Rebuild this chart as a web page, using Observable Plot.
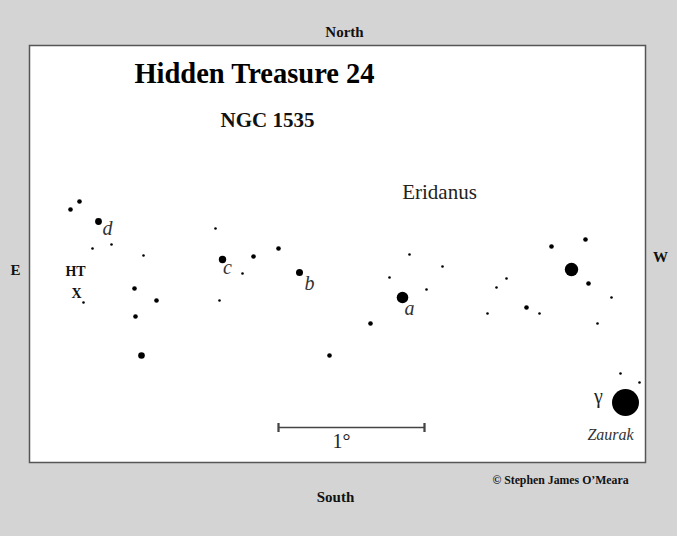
<!DOCTYPE html>
<html><head><meta charset="utf-8">
<script src="https://cdn.jsdelivr.net/npm/d3@7"></script>
<script src="https://cdn.jsdelivr.net/npm/@observablehq/plot@0.6"></script>
<style>body{margin:0;background:#d4d4d4}</style>
</head><body><div id="chart"></div>
<script>
// Star positions (chart units) and dot radii
const starX = [70,79,98,92,111,143,83,134,156,135,141,215,222,219,253,278,242,299,329,370,389,409,426,442,402,487,496,506,526,539,551,585,571,588,611,597,620,639,625];
const starY = [209,201,221,248,244,255,302,288,300,316,355,228,259,300,256,248,273,272,355,323,277,254,289,266,297,313,287,278,307,313,246,239,269,283,297,323,373,382,402];
const starR = [2.3,2.3,3.4,1.3,1.3,1.3,1.3,2.3,2.3,2.3,3.3,1.3,3.7,1.3,2.3,2.3,1.3,3.5,2.3,2.3,1.3,1.3,1.3,1.3,5.8,1.3,1.3,1.3,2.3,1.3,2.3,2.3,6.7,2.3,1.3,1.3,1.3,1.3,13.5];

// Star letter labels
const letterText = ["d","c","b","a"];
const letterX = [107,227,309,409];
const letterY = [228,267,283,308];

// Map annotations
const compassText = ["North","South","E","W"];
const compassX = [344,335,15,660];
const compassY = [32,497,270,257];

const htText = ["HT","X"];
const htX = [75,76];
const htY = [271,293];

// Scale bar (1 degree)
const barX1 = [278], barX2 = [424], barY = [427];
const barLabel = ["1°"], barLabelX = [341], barLabelY = [441];

const stars = starX.map((x,i)=>({x, y: starY[i], r: starR[i]}));
const letters = letterText.map((t,i)=>({t, x: letterX[i], y: letterY[i]}));
const compass = compassText.map((t,i)=>({t, x: compassX[i], y: compassY[i]}));
const ht = htText.map((t,i)=>({t, x: htX[i], y: htY[i]}));
const bar = barX1.map((x1,i)=>({x1, x2: barX2[i], y: barY[i]}));
const barLab = barLabel.map((t,i)=>({t, x: barLabelX[i], y: barLabelY[i]}));

const chart = Plot.plot({
  width: 677, height: 536,
  marginLeft: 29, marginRight: 32, marginTop: 45, marginBottom: 74,
  x: {domain: [29, 645], axis: null},
  y: {domain: [45, 462], reverse: true, axis: null},
  r: {type: "identity"},
  style: {background: "#d4d4d4", fontFamily: "'Liberation Serif', serif", color: "#111"},
  marks: [
    Plot.frame({fill: "white", stroke: "#555", strokeWidth: 1.5}),
    Plot.dot(stars, {x: "x", y: "y", r: "r", fill: "#000", stroke: "none"}),
    Plot.text(letters, {x: "x", y: "y", text: "t", fontSize: 20, fontStyle: "italic", fill: "#333"}),
    Plot.text(compass, {x: "x", y: "y", text: "t", fontSize: 15, fontWeight: "bold", fill: "#111"}),
    Plot.text(ht, {x: "x", y: "y", text: "t", fontSize: 14, fontWeight: "bold", fill: "#111"}),
    Plot.text(["Hidden Treasure 24"], {x: [254], y: [73], text: d => d, fontSize: 28.5, fontWeight: "bold", fill: "#000"}),
    Plot.text(["NGC 1535"], {x: [267], y: [120], text: d => d, fontSize: 21, fontWeight: "bold", fill: "#111"}),
    Plot.text(["Eridanus"], {x: [439], y: [192], text: d => d, fontSize: 21, fill: "#222"}),
    Plot.text(["γ"], {x: [598], y: [396], text: d => d, fontSize: 20, fill: "#222"}),
    Plot.text(["Zaurak"], {x: [610], y: [434], text: d => d, fontSize: 16, fontStyle: "italic", fill: "#333"}),
    Plot.text(["© Stephen James O’Meara"], {x: [560], y: [480], text: d => d, fontSize: 11.8, fontWeight: "bold", fill: "#111"}),
    Plot.link(bar, {x1: "x1", x2: "x2", y1: "y", y2: "y", stroke: "#444", strokeWidth: 1.5, markerStart: "tick", markerEnd: "tick"}),
    Plot.text(barLab, {x: "x", y: "y", text: "t", fontSize: 20, fill: "#222"})
  ]
});
document.getElementById("chart").appendChild(chart);
</script>
</body></html>
